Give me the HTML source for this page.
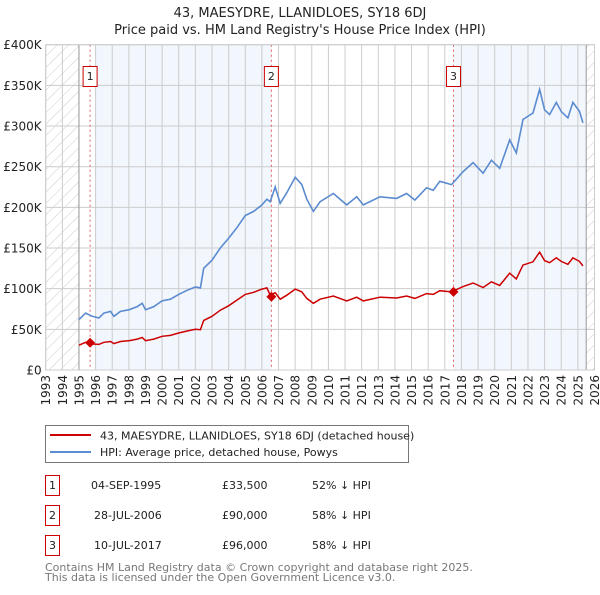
<!DOCTYPE html>
<html><head><meta charset="utf-8"><style>
body{margin:0;background:#fff;}
svg text{font-family:"DejaVu Sans","Liberation Sans",sans-serif;}
</style></head><body>
<svg id="chart" width="600" height="590" xmlns="http://www.w3.org/2000/svg">
<defs>
<pattern id="hatch" patternUnits="userSpaceOnUse" width="8" height="8" patternTransform="rotate(45)">
<line x1="0" y1="0" x2="0" y2="8" stroke="#ccc" stroke-width="1"/>
</pattern>
</defs>
<text x="300" y="17" text-anchor="middle" font-size="13" fill="#222">43, MAESYDRE, LLANIDLOES, SY18 6DJ</text>
<text x="300" y="34" text-anchor="middle" font-size="13" fill="#222">Price paid vs. HM Land Registry's House Price Index (HPI)</text>
<g id="plot"></g>
<g>
<rect x="45.5" y="425.5" width="363" height="37" fill="#fff" stroke="#777"/>
<line x1="50" y1="435" x2="91" y2="435" stroke="#cc0000" stroke-width="2"/>
<text x="100" y="439.5" font-size="11" fill="#222">43, MAESYDRE, LLANIDLOES, SY18 6DJ (detached house)</text>
<line x1="50" y1="452" x2="91" y2="452" stroke="#5b8bd0" stroke-width="2"/>
<text x="100" y="456" font-size="11" fill="#222">HPI: Average price, detached house, Powys</text>
</g>
<g font-size="11" fill="#222">
<rect x="45.5" y="475.5" width="14" height="20" fill="#fff" stroke="#cc0000"/><text x="52.5" y="489" text-anchor="middle">1</text>
<text x="91" y="489">04-SEP-1995</text><text x="222" y="489">£33,500</text><text x="312" y="489">52% ↓ HPI</text>
<rect x="45.5" y="505.5" width="14" height="20" fill="#fff" stroke="#cc0000"/><text x="52.5" y="519" text-anchor="middle">2</text>
<text x="94" y="519">28-JUL-2006</text><text x="222" y="519">£90,000</text><text x="312" y="519">58% ↓ HPI</text>
<rect x="45.5" y="535.5" width="14" height="20" fill="#fff" stroke="#cc0000"/><text x="52.5" y="549" text-anchor="middle">3</text>
<text x="94" y="549">10-JUL-2017</text><text x="222" y="549">£96,000</text><text x="312" y="549">58% ↓ HPI</text>
</g>
<text x="45" y="571" font-size="11" fill="#777">Contains HM Land Registry data © Crown copyright and database right 2025.</text>
<text x="45" y="581" font-size="11" fill="#777">This data is licensed under the Open Government Licence v3.0.</text>
</svg>
<script>
const years=[1995.0,1995.4,1995.8,1996.2,1996.5,1996.9,1997.1,1997.5,1998,1998.5,1998.8,1999.0,1999.5,2000,2000.5,2001,2001.5,2002,2002.3,2002.5,2003,2003.5,2004,2004.5,2005,2005.5,2006,2006.3,2006.5,2006.8,2007.1,2007.5,2008,2008.4,2008.7,2009.1,2009.5,2010.3,2011.1,2011.7,2012.1,2013.1,2014.1,2014.7,2015.2,2015.9,2016.3,2016.7,2017.4,2018.1,2018.7,2019.3,2019.8,2020.3,2020.9,2021.3,2021.7,2022.3,2022.7,2023.0,2023.3,2023.7,2024.0,2024.4,2024.7,2025.1,2025.3];
const hpiValues=[62,70,66,64,70,72,66,72,74,78,82,74,78,85,87,93,98,102,101,125,135,150,162,175,190,195,203,210,207,225,205,218,237,228,210,195,207,217,203,213,203,213,211,217,209,224,221,232,228,244,255,242,258,248,283,267,308,316,345,320,314,329,318,310,329,318,304];
const propertyValues=[30.5,34,32,31.5,34,35,32.5,35,36,38,40,36,38,41.5,42.5,45.5,48,50,49.5,61,66,73.5,79,86,93,95.5,99.5,101,92,95,87,92,99.5,96,88,82,87,91,85,89.5,85,89.5,88.5,91,88,94,93,97.5,96,102.5,107,101.5,108.5,104,119,112,129,133,145,134.5,132,138,133.5,130,138,133.5,128];
const saleDates=[1995.67,2006.57,2017.52];
const salePrices=[33.5,90,96];
const saleLabels=["1","2","3"];
const yTicks=[0,50,100,150,200,250,300,350,400];
const yTickLabels=["£0","£50K","£100K","£150K","£200K","£250K","£300K","£350K","£400K"];
const xTicks=[1993,1994,1995,1996,1997,1998,1999,2000,2001,2002,2003,2004,2005,2006,2007,2008,2009,2010,2011,2012,2013,2014,2015,2016,2017,2018,2019,2020,2021,2022,2023,2024,2025,2026];

const L=45.7,R=594.5,T=44.7,B=370;
const x=v=>L+(v-1993)/(2026-1993)*(R-L);
const y=v=>B-v/400*(B-T);
const NS="http://www.w3.org/2000/svg";
const g=document.getElementById('plot');
function mk(tag,attrs){const e=document.createElementNS(NS,tag);for(const k in attrs)e.setAttribute(k,attrs[k]);g.appendChild(e);return e;}
let s1=mk('rect',{x:x(1996),y:T,width:x(saleDates[1])-x(1996),height:B-T,fill:'#f2f6fd'});


let s2=mk('rect',{x:x(saleDates[2]),y:T,width:x(2025.5)-x(saleDates[2]),height:B-T,fill:'#f2f6fd'});


let h1=mk('rect',{x:L,y:T,width:x(1995)-L,height:B-T,fill:'url(#hatch)'});


let h2=mk('rect',{x:x(2025.5),y:T,width:R-x(2025.5),height:B-T,fill:'url(#hatch)'});


yTicks.forEach((t,i)=>{
 let l=mk('line',{x1:L,x2:R,y1:y(t),y2:y(t),stroke:'#ccc','stroke-width':1});
 
 
 let tx=mk('text',{x:L-4,y:y(t)+4.5,'text-anchor':'end','font-size':12,fill:'#222'});
 tx.textContent=yTickLabels[i];
 
 
});
xTicks.forEach(t=>{
 let l=mk('line',{x1:x(t),x2:x(t),y1:T,y2:B,stroke:'#ccc','stroke-width':1});
 
 
 let tx=mk('text',{transform:`translate(${x(t)+4.5},${B+5}) rotate(-90)`,'text-anchor':'end','font-size':12,fill:'#222'});
 tx.textContent=t;
 
 
});
let e1=mk('line',{x1:x(1995),x2:x(1995),y1:T,y2:B,stroke:'#999'});


let e2=mk('line',{x1:x(2025.5),x2:x(2025.5),y1:T,y2:B,stroke:'#999'});


saleDates.forEach((d,i)=>{
 let l=mk('line',{x1:x(d),x2:x(d),y1:T,y2:B,stroke:'#e06060','stroke-dasharray':'2,3'});
 
 
 let r=mk('rect',{x:x(d)-7,y:66.5,width:14,height:20,fill:'#fff',stroke:'#cc0000'});
 
 
 let tx=mk('text',{x:x(d),y:80,'text-anchor':'middle','font-size':11,fill:'#222'});
 tx.textContent=saleLabels[i];
 
 
});
const pts=vals=>years.map((yr,i)=>x(yr).toFixed(1)+','+y(vals[i]).toFixed(1)).join(' ');
let hp=mk('polyline',{points:pts(hpiValues),fill:'none',stroke:'#5b8bd0','stroke-width':1.6});


let pp=mk('polyline',{points:pts(propertyValues),fill:'none',stroke:'#cc0000','stroke-width':1.5});


saleDates.forEach((d,i)=>{
 let c=mk('path',{d:`M${x(d)},${y(salePrices[i])-5} l5,5 l-5,5 l-5,-5 z`,fill:'#cc0000'});
 
 
});
let bd=mk('rect',{x:L,y:T,width:R-L,height:B-T,fill:'none',stroke:'#ccc'});


</script>
</body></html>
